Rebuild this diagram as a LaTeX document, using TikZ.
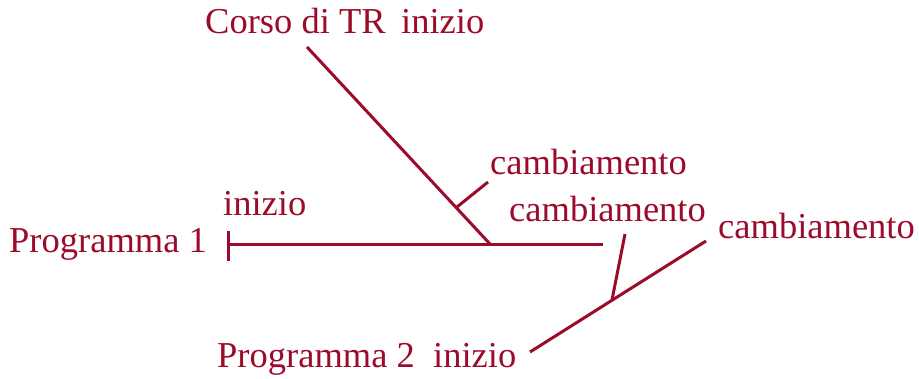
\documentclass[tikz,border=0pt]{standalone}
\usepackage{fontspec}
\setmainfont{Liberation Serif}
\definecolor{wine}{RGB}{155,12,42}
\begin{document}
\begin{tikzpicture}[x=1pt,y=-1pt,
  lbl/.style={anchor=base west,inner sep=0pt,text=wine,font=\fontsize{36.5}{40}\selectfont},
  ln/.style={draw=wine,line width=3pt}]
\useasboundingbox (0,0) rectangle (919,378);
% coordinates
\coordinate (ctop) at (307,47);
\coordinate (cbot) at (490,244);
\coordinate (hl) at (228,244);
\coordinate (hr) at (603,244);
\coordinate (tkt) at (228,231);
\coordinate (tkb) at (228,261);
\coordinate (c1a) at (457,207);
\coordinate (c1b) at (488,182);
\coordinate (p2a) at (530,352);
\coordinate (p2b) at (706,241);
\coordinate (c2a) at (612,300);
\coordinate (c2b) at (625,234);
% lines
\draw[ln] (ctop) -- (cbot);
\draw[ln] (hl) -- (hr);
\draw[ln] (tkt) -- (tkb);
\draw[ln] (c1a) -- (c1b);
\draw[ln] (p2a) -- (p2b);
\draw[ln] (c2a) -- (c2b);
% labels
\node[lbl] (corso) at (205,33) {Corso di TR};
\node[lbl] (inizio0) at (401,33) {inizio};
\node[lbl] (prog1) at (9,252) {Programma 1};
\node[lbl] (inizio1) at (223,215) {inizio};
\node[lbl] (camb1) at (490,174) {cambiamento};
\node[lbl] (camb2) at (509,221) {cambiamento};
\node[lbl] (camb3) at (718,238) {cambiamento};
\node[lbl] (prog2) at (217,367) {Programma 2\ \ inizio};
\end{tikzpicture}
\end{document}
